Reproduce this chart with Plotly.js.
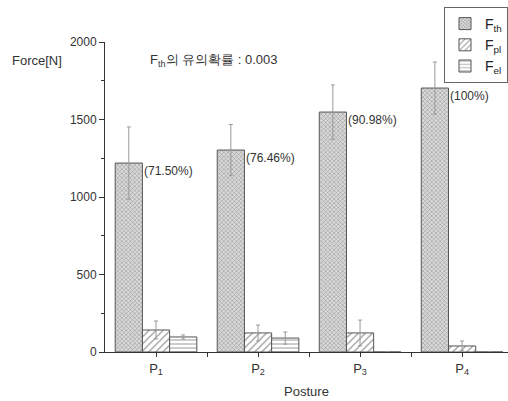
<!DOCTYPE html>
<html><head><meta charset="utf-8">
<script src="https://cdn.plot.ly/plotly-3.0.1.min.js"></script>
<style>html,body{margin:0;padding:0;background:#fff;overflow:hidden}</style>
</head><body><div id="chart" style="width:508px;height:401px"></div>
<script>
const categories = ["P<sub>1</sub>", "P<sub>2</sub>", "P<sub>3</sub>", "P<sub>4</sub>"];
const positions = [1, 2, 3, 4];
const fth = [1219, 1303, 1548, 1703];
const fthErr = [233, 165, 175, 168];
const fpl = [142, 123, 123, 39];
const fplErr = [58, 51, 83, 32];
const fel = [97, 90, 0, 0];
const felErr = [13, 39, 0, 0];
const percentLabels = ["(71.50%)", "(76.46%)", "(90.98%)", "(100%)"];
const seriesNames = ["F<sub>th</sub>", "F<sub>pl</sub>", "F<sub>el</sub>"];

const edge = {color: '#555', width: 1};
const errStyle = {type: 'data', visible: true, color: '#999', thickness: 1, width: 2};

const traces = [
  {type: 'bar', x: positions, y: fth, name: seriesNames[0],
   error_y: Object.assign({array: fthErr}, errStyle),
   marker: {color: '#fff', line: edge, pattern: {shape: 'x', fgcolor: '#8a8a8a', bgcolor: '#dadada', size: 3, solidity: 0.3}}},
  {type: 'bar', x: positions, y: fpl, name: seriesNames[1],
   error_y: Object.assign({array: fplErr}, errStyle),
   marker: {color: '#fff', line: edge, pattern: {shape: '/', fgcolor: '#999', bgcolor: '#fff', size: 5, solidity: 0.25}}},
  {type: 'bar', x: positions, y: fel, name: seriesNames[2],
   error_y: Object.assign({array: felErr}, errStyle),
   marker: {color: '#fff', line: edge, pattern: {shape: '-', fgcolor: '#aaa', bgcolor: '#fff', size: 4, solidity: 0.3}}}
];

const L = 105, T = 42, W = 403, H = 310;

const annotations = positions.map((p, i) => ({
  x: p - 0.14, y: fth[i], xref: 'x', yref: 'y', text: percentLabels[i],
  showarrow: false, xanchor: 'left', yanchor: 'top', yshift: 1,
  font: {size: 12, color: '#333'}
}));
annotations.push({x: (10 - L) / W, y: 1 - (60 - T) / H, xref: 'paper', yref: 'paper', text: 'Force[N]', showarrow: false,
  xanchor: 'left', yanchor: 'middle', font: {size: 13, color: '#333'}});
annotations.push({x: (148 - L) / W, y: 1 - (60 - T) / H, xref: 'paper', yref: 'paper', text: 'F<sub>th</sub>의 유의확률 : 0.003', showarrow: false,
  xanchor: 'left', yanchor: 'middle', font: {size: 13, color: '#333'}});

const layout = {
  width: 508, height: 401,
  margin: {l: L, r: 0, t: T, b: 49},
  paper_bgcolor: '#fff', plot_bgcolor: '#fff',
  font: {family: 'Liberation Sans, Arial, sans-serif', color: '#333', size: 12},
  barmode: 'group', bargap: 0.2, bargroupgap: 0,
  showlegend: true,
  legend: {x: 1, xanchor: 'right', y: 1 + (T - 7) / H, yanchor: 'top', xref: 'paper', yref: 'paper',
    bordercolor: '#666', borderwidth: 1, bgcolor: '#fff', font: {size: 14, color: '#222'},
    tracegroupgap: 0, itemwidth: 30},
  xaxis: {range: [0.5, 4.45], tickmode: 'array', tickvals: positions, ticktext: categories,
    showline: true, linecolor: '#333', linewidth: 1, ticks: 'outside', ticklen: 4, tickcolor: '#333',
    showgrid: false, zeroline: false, tickfont: {size: 13, color: '#333'},
    minor: {tickmode: 'array', tickvals: [1.5, 2.5, 3.5], ticks: 'outside', ticklen: 4, tickcolor: '#333'},
    title: {text: 'Posture', font: {size: 13, color: '#333'}, standoff: 10}},
  yaxis: {range: [0, 2000], tickvals: [0, 500, 1000, 1500, 2000],
    showline: true, linecolor: '#333', linewidth: 1, ticks: 'outside', ticklen: 5, tickcolor: '#333',
    showgrid: false, zeroline: false, tickfont: {size: 12, color: '#333'},
    minor: {tickvals: [250, 750, 1250, 1750], ticks: 'outside', ticklen: 3, tickcolor: '#333'}},
  annotations: annotations
};

Plotly.newPlot('chart', traces, layout, {displayModeBar: false, staticPlot: true});
</script></body></html>
